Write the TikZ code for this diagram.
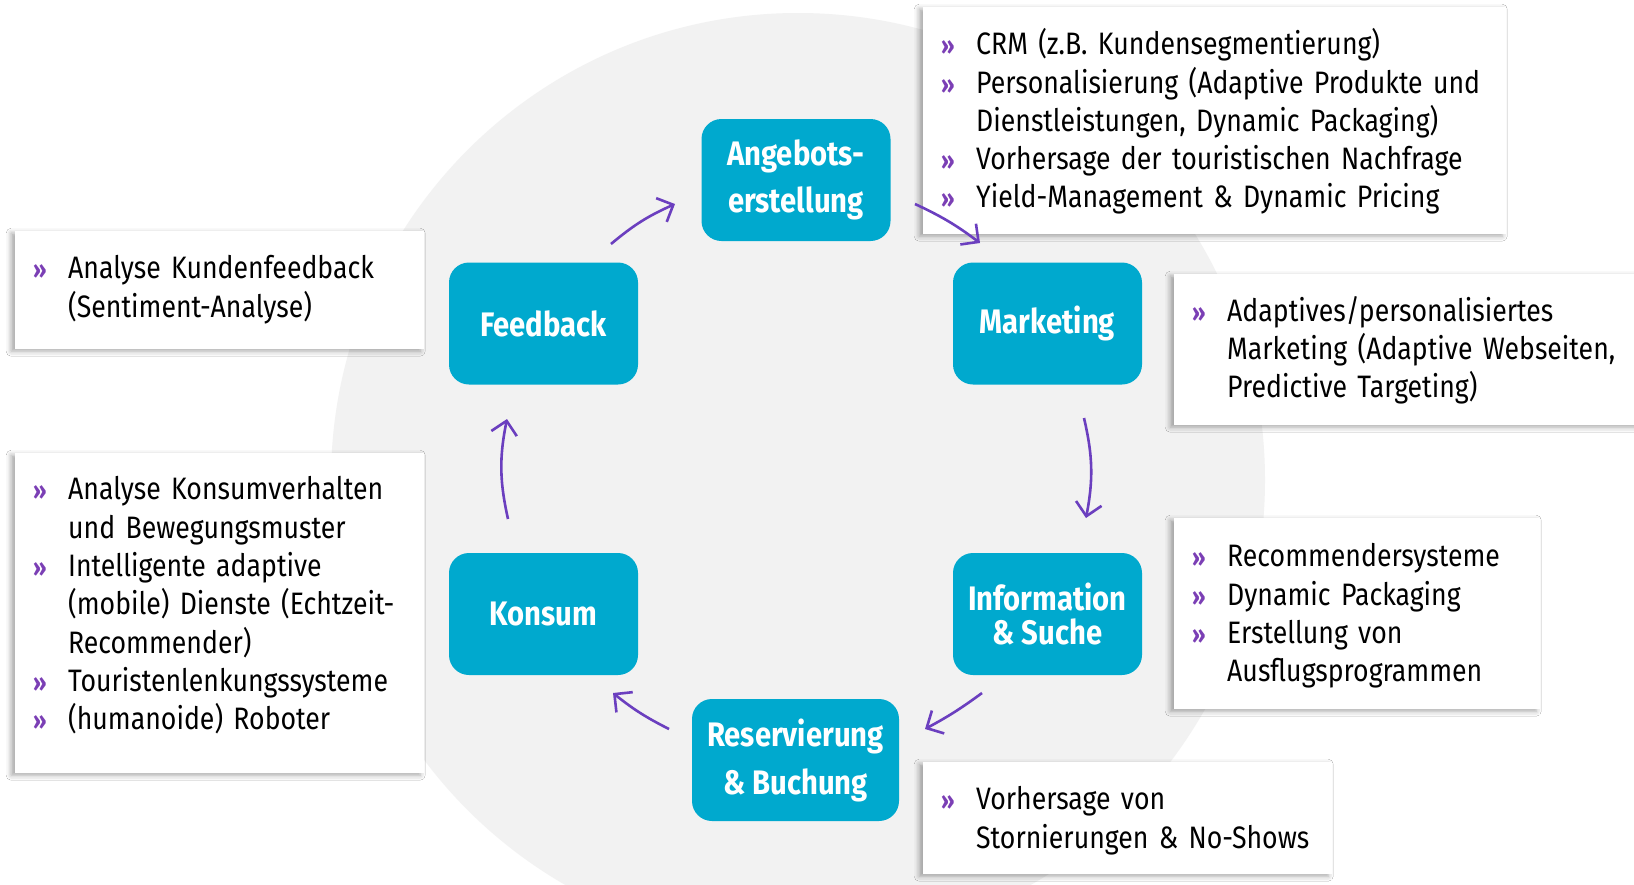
\documentclass[tikz,border=0pt]{standalone}
\usepackage{fontspec}
\setmainfont[FakeStretch=0.86]{Fira Sans}
\usetikzlibrary{arrows.meta,shadows,shadows.blur}
\definecolor{boxblue}{HTML}{00A9CE}
\definecolor{arrowpurple}{HTML}{6B3FBF}
\definecolor{bulletpurple}{HTML}{7B3FB5}
\definecolor{circlegray}{HTML}{F2F2F2}
\newcommand{\bul}{\makebox[35pt][l]{\color{bulletpurple}\fontsize{25}{25}\selectfont\bfseries »}}
\newcommand{\bodytext}{\fontsize{31}{38.3}\selectfont}
\newcommand{\shiftdown}[2]{\raisebox{0pt}[\dimexpr\height+#1\relax][\dimexpr\depth-#1\relax]{#2}}
\tikzset{
  stage/.style={fill=boxblue, rounded corners=20pt, text=white, align=center,
    minimum width=189pt, minimum height=122pt, inner sep=0pt},
  panel/.style={fill=white, anchor=north west, inner xsep=18pt, inner ysep=0pt,
    align=left, font=\bodytext,
    blur shadow={shadow xshift=-4pt, shadow yshift=-2pt, shadow blur radius=5pt, shadow opacity=35}},
  flow/.style={draw=arrowpurple, line width=2.6pt,
    -{Straight Barb[length=13pt,width=26pt]}}
}
\begin{document}
\begin{tikzpicture}[x=1pt,y=1pt]
\useasboundingbox (0,0) rectangle (1634,-884);
\begin{scope}
\clip (0,0) rectangle (1634,-884);
\fill[white] (0,0) rectangle (1634,-884);
\fill[circlegray] (798,-480) circle (467);

% stages
\node[stage, font=\bfseries\fontsize{34}{47}\selectfont] (ang) at (796,-180) {Angebots-\\erstellung};
\node[stage, font=\bfseries\fontsize{34}{40}\selectfont] (fb) at (543.5,-323.5) {Feedback};
\node[stage, font=\bfseries\fontsize{34}{40}\selectfont] (mk) at (1047.5,-323.5) {Marketing};
\node[stage, font=\bfseries\fontsize{34}{40}\selectfont] (ko) at (543.5,-614) {Konsum};
\node[stage, font=\bfseries\fontsize{34}{34}\selectfont] (inf) at (1047.5,-614) {Information\\\& Suche};
\node[stage, minimum width=207pt, font=\bfseries\fontsize{34}{48}\selectfont] (res) at (795.5,-760) {Reservierung\\\& Buchung};

% panels
\node[panel, text width=547pt, minimum height=227pt] (angp) at (923,-7) {\shiftdown{3pt}{%
\begin{tabular}{@{}l@{}l@{}}
\bul & CRM (z.B. Kundensegmentierung)\\
\bul & Personalisierung (Adaptive Produkte und\\
     & Dienstleistungen, Dynamic Packaging)\\
\bul & Vorhersage der touristischen Nachfrage\\
\bul & Yield-Management \& Dynamic Pricing
\end{tabular}}};

\node[panel, text width=373pt, minimum height=118pt] (fbp) at (15,-231) {%
\begin{tabular}{@{}l@{}l@{}}
\bul & Analyse Kundenfeedback\\
     & (Sentiment-Analyse)
\end{tabular}};

\node[panel, text width=434pt, minimum height=151pt] (mkp) at (1174,-274) {\shiftdown{2pt}{%
\begin{tabular}{@{}l@{}l@{}}
\bul & Adaptives/personalisiertes\\
     & Marketing (Adaptive Webseiten,\\
     & Predictive Targeting)
\end{tabular}}};

\node[panel, text width=373pt, minimum height=320pt] (kop) at (15,-453) {\shiftdown{-6pt}{%
\begin{tabular}{@{}l@{}l@{}}
\bul & Analyse Konsumverhalten\\
     & und Bewegungsmuster\\
\bul & Intelligente adaptive\\
     & (mobile) Dienste (Echtzeit-\\
     & Recommender)\\
\bul & Touristenlenkungssysteme\\
\bul & (humanoide) Roboter
\end{tabular}}};

\node[panel, text width=330pt, minimum height=191pt] (infp) at (1174,-518) {\shiftdown{3pt}{%
\begin{tabular}{@{}l@{}l@{}}
\bul & Recommendersysteme\\
\bul & Dynamic Packaging\\
\bul & Erstellung von\\
     & Ausflugsprogrammen
\end{tabular}}};

\node[panel, text width=373pt, minimum height=112pt] (resp) at (923,-762) {\shiftdown{3pt}{%
\begin{tabular}{@{}l@{}l@{}}
\bul & Vorhersage von\\
     & Stornierungen \& No-Shows
\end{tabular}}};

% arrow end points
\coordinate (c1s) at (611,-244); \coordinate (c1e) at (675,-204);
\coordinate (c2s) at (915,-204); \coordinate (c2e) at (980,-243);
\coordinate (c3s) at (1084,-418); \coordinate (c3e) at (1086,-518);
\coordinate (c4s) at (982,-693); \coordinate (c4e) at (925,-729);
\coordinate (c5s) at (669,-729); \coordinate (c5e) at (613,-693);
\coordinate (c6s) at (508,-519); \coordinate (c6e) at (507,-419);

\draw[flow] (c1s) to[bend left=8] (c1e);
\draw[flow] (c2s) to[bend left=6] (c2e);
\draw[flow] (c3s) to[bend left=12] (c3e);
\draw[flow] (c4s) to[bend left=4] (c4e);
\draw[flow] (c5s) to[bend left=6] (c5e);
\draw[flow] (c6s) to[bend left=12] (c6e);
\end{scope}
\end{tikzpicture}
\end{document}
